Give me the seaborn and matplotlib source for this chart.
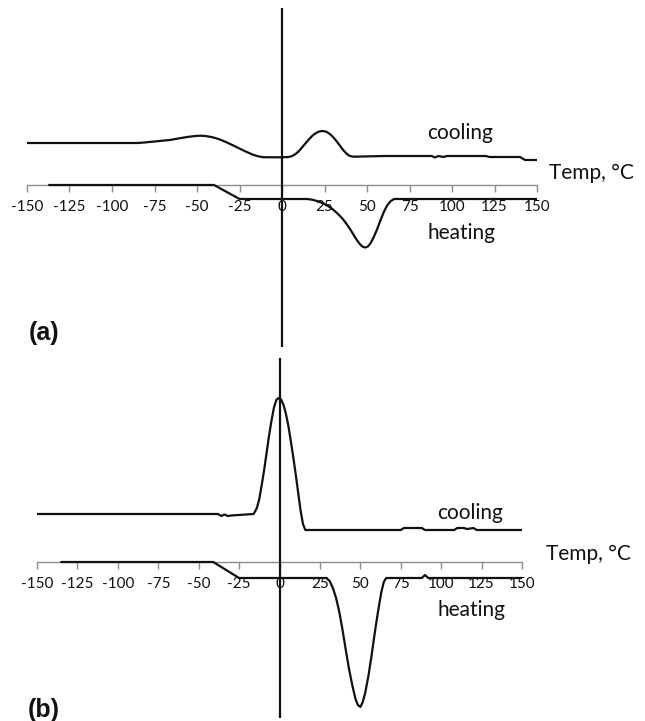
import numpy as np
import pandas as pd
import matplotlib
matplotlib.use("Agg")
import matplotlib.pyplot as plt
import seaborn as sns

# ---------------- data (arbitrary heat-flow units, axis at 0) ----------------
ticks = [-150, -125, -100, -75, -50, -25, 0, 25, 50, 75, 100, 125, 150]
tick_labels = ["-150", "-125", "-100", "-75", "-50", "-25", "0", "25", "50", "75", "100", "125", "150"]

# (a) cooling
a_cool_T = [-150, -85, -81, -78, -72, -66, -60, -55, -51, -48, -45, -41, -37, -33, -29, -25, -21, -17, -14,
            -11, -5, 0, 4, 6, 8, 10, 12, 14, 16, 18, 20, 22, 24, 26, 28, 30, 32, 34, 36, 38, 40, 42,
            60, 88, 90, 92, 95, 97, 120, 122, 140, 143, 150]
a_cool_Y = [4.2, 4.2, 4.25, 4.3, 4.4, 4.5, 4.68, 4.82, 4.9, 4.93, 4.9, 4.78, 4.58, 4.3, 3.98, 3.65, 3.32, 3.02, 2.87,
            2.78, 2.77, 2.77, 2.8, 2.9, 3.1, 3.4, 3.8, 4.2, 4.6, 4.95, 5.2, 5.36, 5.4, 5.33, 5.12, 4.8, 4.4, 3.95, 3.5,
            3.12, 2.9, 2.83, 2.9, 2.9, 2.75, 2.9, 2.8, 2.9, 2.9, 2.8, 2.8, 2.5, 2.5]

# (a) heating
a_heat_T = [-137, -40, -25, 15, 18, 21, 24, 27, 30, 33, 36, 38, 40, 42, 44, 46, 47.5, 49, 50.5, 52, 54, 56,
            58, 60, 62, 64, 66, 150]
a_heat_Y = [0.0, 0.0, -1.4, -1.4, -1.48, -1.62, -1.82, -2.1, -2.45, -2.9, -3.45, -3.9, -4.4, -4.95, -5.5, -5.95,
            -6.18, -6.25, -6.15, -5.85, -5.2, -4.4, -3.5, -2.65, -2.0, -1.6, -1.4, -1.4]

# (b) cooling
b_cool_T = [-150, -38, -36, -34, -32, -30, -16, -14, -12.5, -11, -9.5, -8, -6.5, -5, -3.5, -2, -0.5, 1, 2.5,
            4, 5.5, 7, 8.5, 10, 11.5, 13, 14.5, 16, 75, 77, 88, 90, 108, 110, 114, 116, 120, 122, 150]
b_cool_Y = [4.8, 4.8, 4.6, 4.75, 4.6, 4.65, 4.8, 5.4, 6.3, 7.7, 9.2, 10.9, 12.6, 14.1, 15.4, 16.2, 16.4, 16.25,
            15.7, 14.8, 13.6, 12.1, 10.5, 8.8, 7.0, 5.2, 3.8, 3.2, 3.2, 3.4, 3.4, 3.2, 3.2, 3.4, 3.4, 3.3, 3.4,
            3.2, 3.2]

# (b) heating
b_heat_T = [-135, -41, -25, 29, 31, 33, 35, 37, 39, 41, 43, 45, 47, 48.5, 50, 51.5, 53, 55, 57, 59, 61, 63,
            64.5, 66, 88, 90, 92, 150]
b_heat_Y = [0.0, 0.0, -1.6, -1.6, -1.9, -2.6, -3.6, -5.0, -6.8, -8.8, -10.7, -12.3, -13.7, -14.3, -14.5, -14.0,
            -13.1, -11.4, -9.3, -7.0, -4.9, -3.0, -2.0, -1.6, -1.6, -1.3, -1.6, -1.6]

# ---------------- figure ----------------
sns.set_theme(style="white")
plt.rcParams["font.family"] = ["Lato", "DejaVu Sans"]
plt.rcParams["axes.unicode_minus"] = False

W, H = 645, 721
fig = plt.figure(figsize=(W / 100, H / 100), dpi=100)


def make_axes(x0, x1, y_top, y_bot):
    return fig.add_axes([x0 / W, 1 - y_bot / H, (x1 - x0) / W, (y_bot - y_top) / H])


axA = make_axes(27, 537, 8, 347)
axB = make_axes(37, 522, 358, 718)

panels = [
    (axA, a_cool_T, a_cool_Y, a_heat_T, a_heat_Y, (-16.2, 17.7),
     (105, 5.2), (105.5, -4.8), (182, 1.2)),
    (axB, b_cool_T, b_cool_Y, b_heat_T, b_heat_Y, (-15.6, 20.4),
     (118, 4.9), (118.5, -4.8), (191, 0.8)),
]

for ax, cT, cY, hT, hY, ylim, cpos, hpos, tpos in panels:
    ax.set_facecolor("none")
    ax.set_xlim(-150, 150)
    ax.set_ylim(*ylim)
    for s in ["top", "right", "left"]:
        ax.spines[s].set_visible(False)
    ax.spines["bottom"].set_position(("data", 0))
    ax.spines["bottom"].set_color("#8c8c8c")
    ax.spines["bottom"].set_linewidth(1.0)
    ax.spines["bottom"].set_zorder(1)
    ax.set_yticks([])
    ax.set_xticks(ticks)
    ax.set_xticklabels(tick_labels)
    ax.tick_params(axis="x", direction="out", length=5, width=1.0, color="#8c8c8c",
                   labelsize=11, pad=6, labelcolor="#111111", bottom=True)
    ax.axvline(0, color="#111111", lw=1.6, zorder=2)

    dfc = pd.DataFrame({"T": cT, "Y": cY})
    dfh = pd.DataFrame({"T": hT, "Y": hY})
    sns.lineplot(data=dfc, x="T", y="Y", ax=ax, color="#111111", lw=1.6, sort=False,
                 estimator=None, zorder=3)
    sns.lineplot(data=dfh, x="T", y="Y", ax=ax, color="#111111", lw=1.6, sort=False,
                 estimator=None, zorder=3)
    ax.set_xlabel("")
    ax.set_ylabel("")

    ax.text(cpos[0], cpos[1], "cooling", ha="center", va="center", fontsize=15, color="#111111")
    ax.text(hpos[0], hpos[1], "heating", ha="center", va="center", fontsize=15, color="#111111")
    ax.text(tpos[0], tpos[1], "Temp, \u00b0C", ha="center", va="center", fontsize=15,
            color="#111111", clip_on=False)

fig.text(44 / W, 1 - 333 / H, "(a)", ha="center", va="center", fontsize=18,
         fontweight="bold", family=["Liberation Sans", "DejaVu Sans"], color="#111111")
fig.text(44 / W, 1 - 710 / H, "(b)", ha="center", va="center", fontsize=18,
         fontweight="bold", family=["Liberation Sans", "DejaVu Sans"], color="#111111")

fig.savefig("out.png", dpi=100, facecolor="white")
